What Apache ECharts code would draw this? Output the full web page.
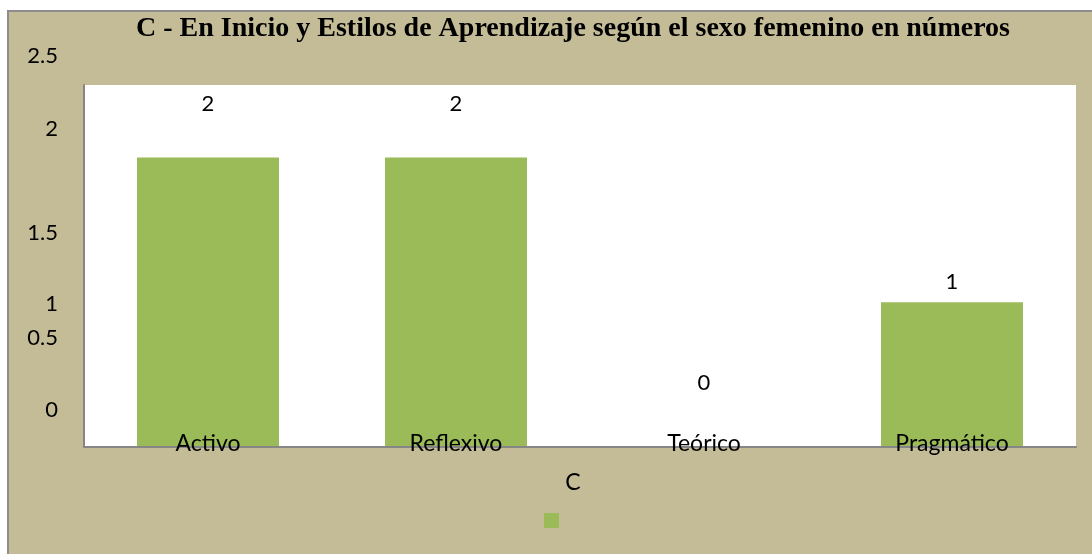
<!DOCTYPE html>
<html lang="es">
<head>
<meta charset="UTF-8">
<title>C - En Inicio</title>
<script src="https://cdn.jsdelivr.net/npm/echarts@6/dist/echarts.min.js"></script>
<style>
  html, body { margin: 0; padding: 0; background: #fff; }
  #main { width: 1092px; height: 554px; }
</style>
</head>
<body>
<div id="main"></div>
<script type="text/javascript">
// datos
var categorias = ['Activo', 'Reflexivo', 'Teórico', 'Pragmático'];
var valores = [2, 2, 0, 1];
var yTicks = ['0', '0.5', '1', '1.5', '2', '2.5'];

// desplazamientos (px) de etiquetas, como en el original
var yShift = [-37, -37, 2, 3, -28, -29];
var labelGaps = [42, 42, 53, 9];

var fuente = 'Lato, "Open Sans", sans-serif';

var rich = {};
yTicks.forEach(function (t, i) {
    var s = yShift[i];
    rich['s' + i] = {
        fontFamily: fuente, fontSize: 22, color: '#000',
        padding: s < 0 ? [0, 0, -2 * s, 0] : [2 * s, 0, 0, 0]
    };
});

var myChart = echarts.init(document.getElementById('main'));

var option = {
    backgroundColor: '#fff',
    animation: false,
    graphic: [{
        type: 'rect', z: -10, silent: true,
        shape: { x: 8, y: 11, width: 1100, height: 560 },
        style: { fill: '#c4bc96', stroke: '#8c8c8c', lineWidth: 2 }
    }],
    title: {
        text: 'C - En Inicio y Estilos de Aprendizaje según el sexo femenino en números',
        left: 568, top: 10, textAlign: 'center',
        textStyle: { fontFamily: '"Liberation Serif", "Times New Roman", serif', fontWeight: 'bold', fontSize: 28, color: '#000' }
    },
    legend: {
        left: 539, top: 508,
        itemWidth: 15, itemHeight: 15, icon: 'rect',
        formatter: function () { return ''; },
        data: ['C']
    },
    grid: {
        left: 84, top: 85, right: 16, bottom: 107,
        show: true, backgroundColor: '#fff', borderWidth: 0
    },
    xAxis: {
        type: 'category',
        data: categorias,
        z: 5,
        name: 'C', nameLocation: 'middle', nameGap: 24,
        nameTextStyle: { fontFamily: fuente, fontSize: 23, color: '#000', padding: [0, 14, 0, 0] },
        axisLine: { lineStyle: { color: '#868686', width: 2 } },
        axisTick: { show: false },
        axisLabel: { margin: -15, fontFamily: fuente, fontSize: 23, color: '#000' }
    },
    yAxis: {
        type: 'value', min: 0, max: 2.5, interval: 0.5,
        axisLine: { show: true, lineStyle: { color: '#868686', width: 2 } },
        axisTick: { show: false },
        splitLine: { show: false },
        axisLabel: {
            margin: 26,
            formatter: function (v) {
                var i = Math.round(v / 0.5);
                return '{s' + i + '|' + yTicks[i] + '}';
            },
            rich: rich
        }
    },
    series: [{
        name: 'C',
        type: 'bar',
        barWidth: 142,
        itemStyle: { color: '#9bbb59' },
        label: { show: true, position: 'top', fontFamily: fuente, fontSize: 22, color: '#000' },
        data: valores.map(function (v, i) {
            return { value: v, label: { distance: labelGaps[i] } };
        })
    }]
};
myChart.setOption(option);
</script>
</body>
</html>
